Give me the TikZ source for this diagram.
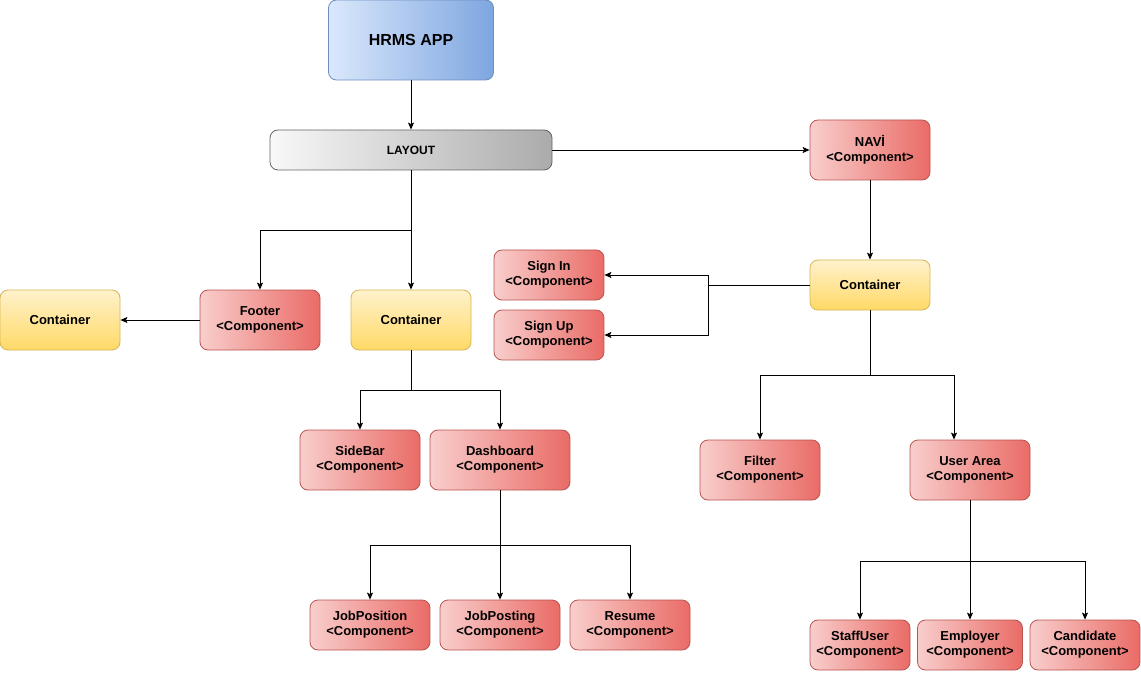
\documentclass[tikz,border=0pt]{standalone}
\usepackage{fontspec}
\setmainfont{Liberation Sans}
\usetikzlibrary{arrows.meta}
\definecolor{redL}{HTML}{F8CECC}
\definecolor{redR}{HTML}{EA6B66}
\definecolor{redD}{HTML}{B85450}
\definecolor{bluL}{HTML}{DAE8FC}
\definecolor{bluR}{HTML}{7EA6E0}
\definecolor{bluD}{HTML}{6C8EBF}
\definecolor{gryL}{HTML}{F8F8F8}
\definecolor{gryR}{HTML}{ABABAB}
\definecolor{gryD}{HTML}{666666}
\definecolor{yelT}{HTML}{FFF2CC}
\definecolor{yelB}{HTML}{FFD966}
\definecolor{yelD}{HTML}{D6B656}
\tikzset{
  box/.style={rounded corners=8pt, line width=0.8pt, inner sep=0pt,
    align=center, font=\fontsize{13}{15}\selectfont\bfseries},
  comp/.style={box, draw=redD, left color=redL, right color=redR,
    minimum width=#1},
  comp/.default=120pt,
  cont/.style={box, draw=yelD, top color=yelT, bottom color=yelB,
    minimum width=120pt},
  app/.style={box, draw=bluD, left color=bluL, right color=bluR,
    font=\fontsize{16}{18}\selectfont\bfseries},
  lay/.style={box, draw=gryD, left color=gryL, right color=gryR,
    font=\fontsize{12}{14}\selectfont\bfseries},
  arr/.style={-{Stealth[length=7pt,width=6pt,inset=1.5pt]}, line width=0.9pt},
  ln/.style={line width=0.9pt}
}
\begin{document}
\begin{tikzpicture}[x=1pt,y=-1pt]
\useasboundingbox (0,0) rectangle (1141,679);

% top level
\node[app, minimum width=165pt, minimum height=80pt] (hrms) at (411,40) {HRMS APP};
\node[lay, minimum width=282pt, minimum height=40pt] (layout) at (411,150) {LAYOUT};
\node[comp, minimum height=60pt] (navi) at (870,150) {NAVİ\\<Component>};

% navigation branch
\node[cont, minimum height=50pt] (cright) at (870,285) {Container};
\node[comp=110pt, minimum height=50pt] (signin) at (549,275) {Sign In\\<Component>};
\node[comp=110pt, minimum height=50pt] (signup) at (549,335) {Sign Up\\<Component>};
\node[comp, minimum height=60pt] (filter) at (760,470) {Filter\\<Component>};
\node[comp, minimum height=60pt] (userarea) at (970,470) {User Area\\<Component>};
\node[comp=100pt, minimum height=50pt] (staff) at (860,645) {StaffUser\\<Component>};
\node[comp=105pt, minimum height=50pt] (employer) at (970,645) {Employer\\<Component>};
\node[comp=110pt, minimum height=50pt] (candidate) at (1085,645) {Candidate\\<Component>};

% layout branch
\node[cont, minimum height=60pt] (cleft) at (60,320) {Container};
\node[comp, minimum height=60pt] (footer) at (260,320) {Footer\\<Component>};
\node[cont, minimum height=60pt] (cmid) at (411,320) {Container};
\node[comp, minimum height=60pt] (sidebar) at (360,460) {SideBar\\<Component>};
\node[comp=140pt, minimum height=60pt] (dashboard) at (500,460) {Dashboard\\<Component>};
\node[comp, minimum height=50pt] (jobposition) at (370,625) {JobPosition\\<Component>};
\node[comp, minimum height=50pt] (jobposting) at (500,625) {JobPosting\\<Component>};
\node[comp, minimum height=50pt] (resume) at (630,625) {Resume\\<Component>};

% junction points
\coordinate (j0) at (411,230);
\coordinate (j2) at (411,390);
\coordinate (j3) at (500,545);
\coordinate (j1) at (870,375);
\coordinate (j4) at (970,561);
\coordinate (j5) at (708,285);

% connectors
\draw[arr] (hrms) -- (layout);
\draw[arr] (layout) -- (navi);
\draw[arr] (layout.south) -- (j0) -| (footer.north);
\draw[arr] (layout.south) -- (cmid.north);
\draw[arr] (footer) -- (cleft);
\draw[ln] (cmid.south) -- (j2);
\draw[arr] (j2) -| (sidebar.north);
\draw[arr] (j2) -| (dashboard.north);
\draw[ln] (dashboard.south) -- (j3);
\draw[arr] (j3) -| (jobposition.north);
\draw[arr] (j3) -- (jobposting.north);
\draw[arr] (j3) -| (resume.north);

\draw[arr] (navi) -- (cright);
\draw[ln] (cright.west) -- (j5);
\draw[arr] (j5) |- (signin.east);
\draw[arr] (j5) |- (signup.east);
\draw[ln] (cright.south) -- (j1);
\draw[arr] (j1) -| (filter.north);
\draw[arr] (j1) -| ([xshift=-16pt]userarea.north);
\draw[ln] (userarea.south) -- (j4);
\draw[arr] (j4) -| (staff.north);
\draw[arr] (j4) -- (employer.north);
\draw[arr] (j4) -| (candidate.north);
\end{tikzpicture}
\end{document}
